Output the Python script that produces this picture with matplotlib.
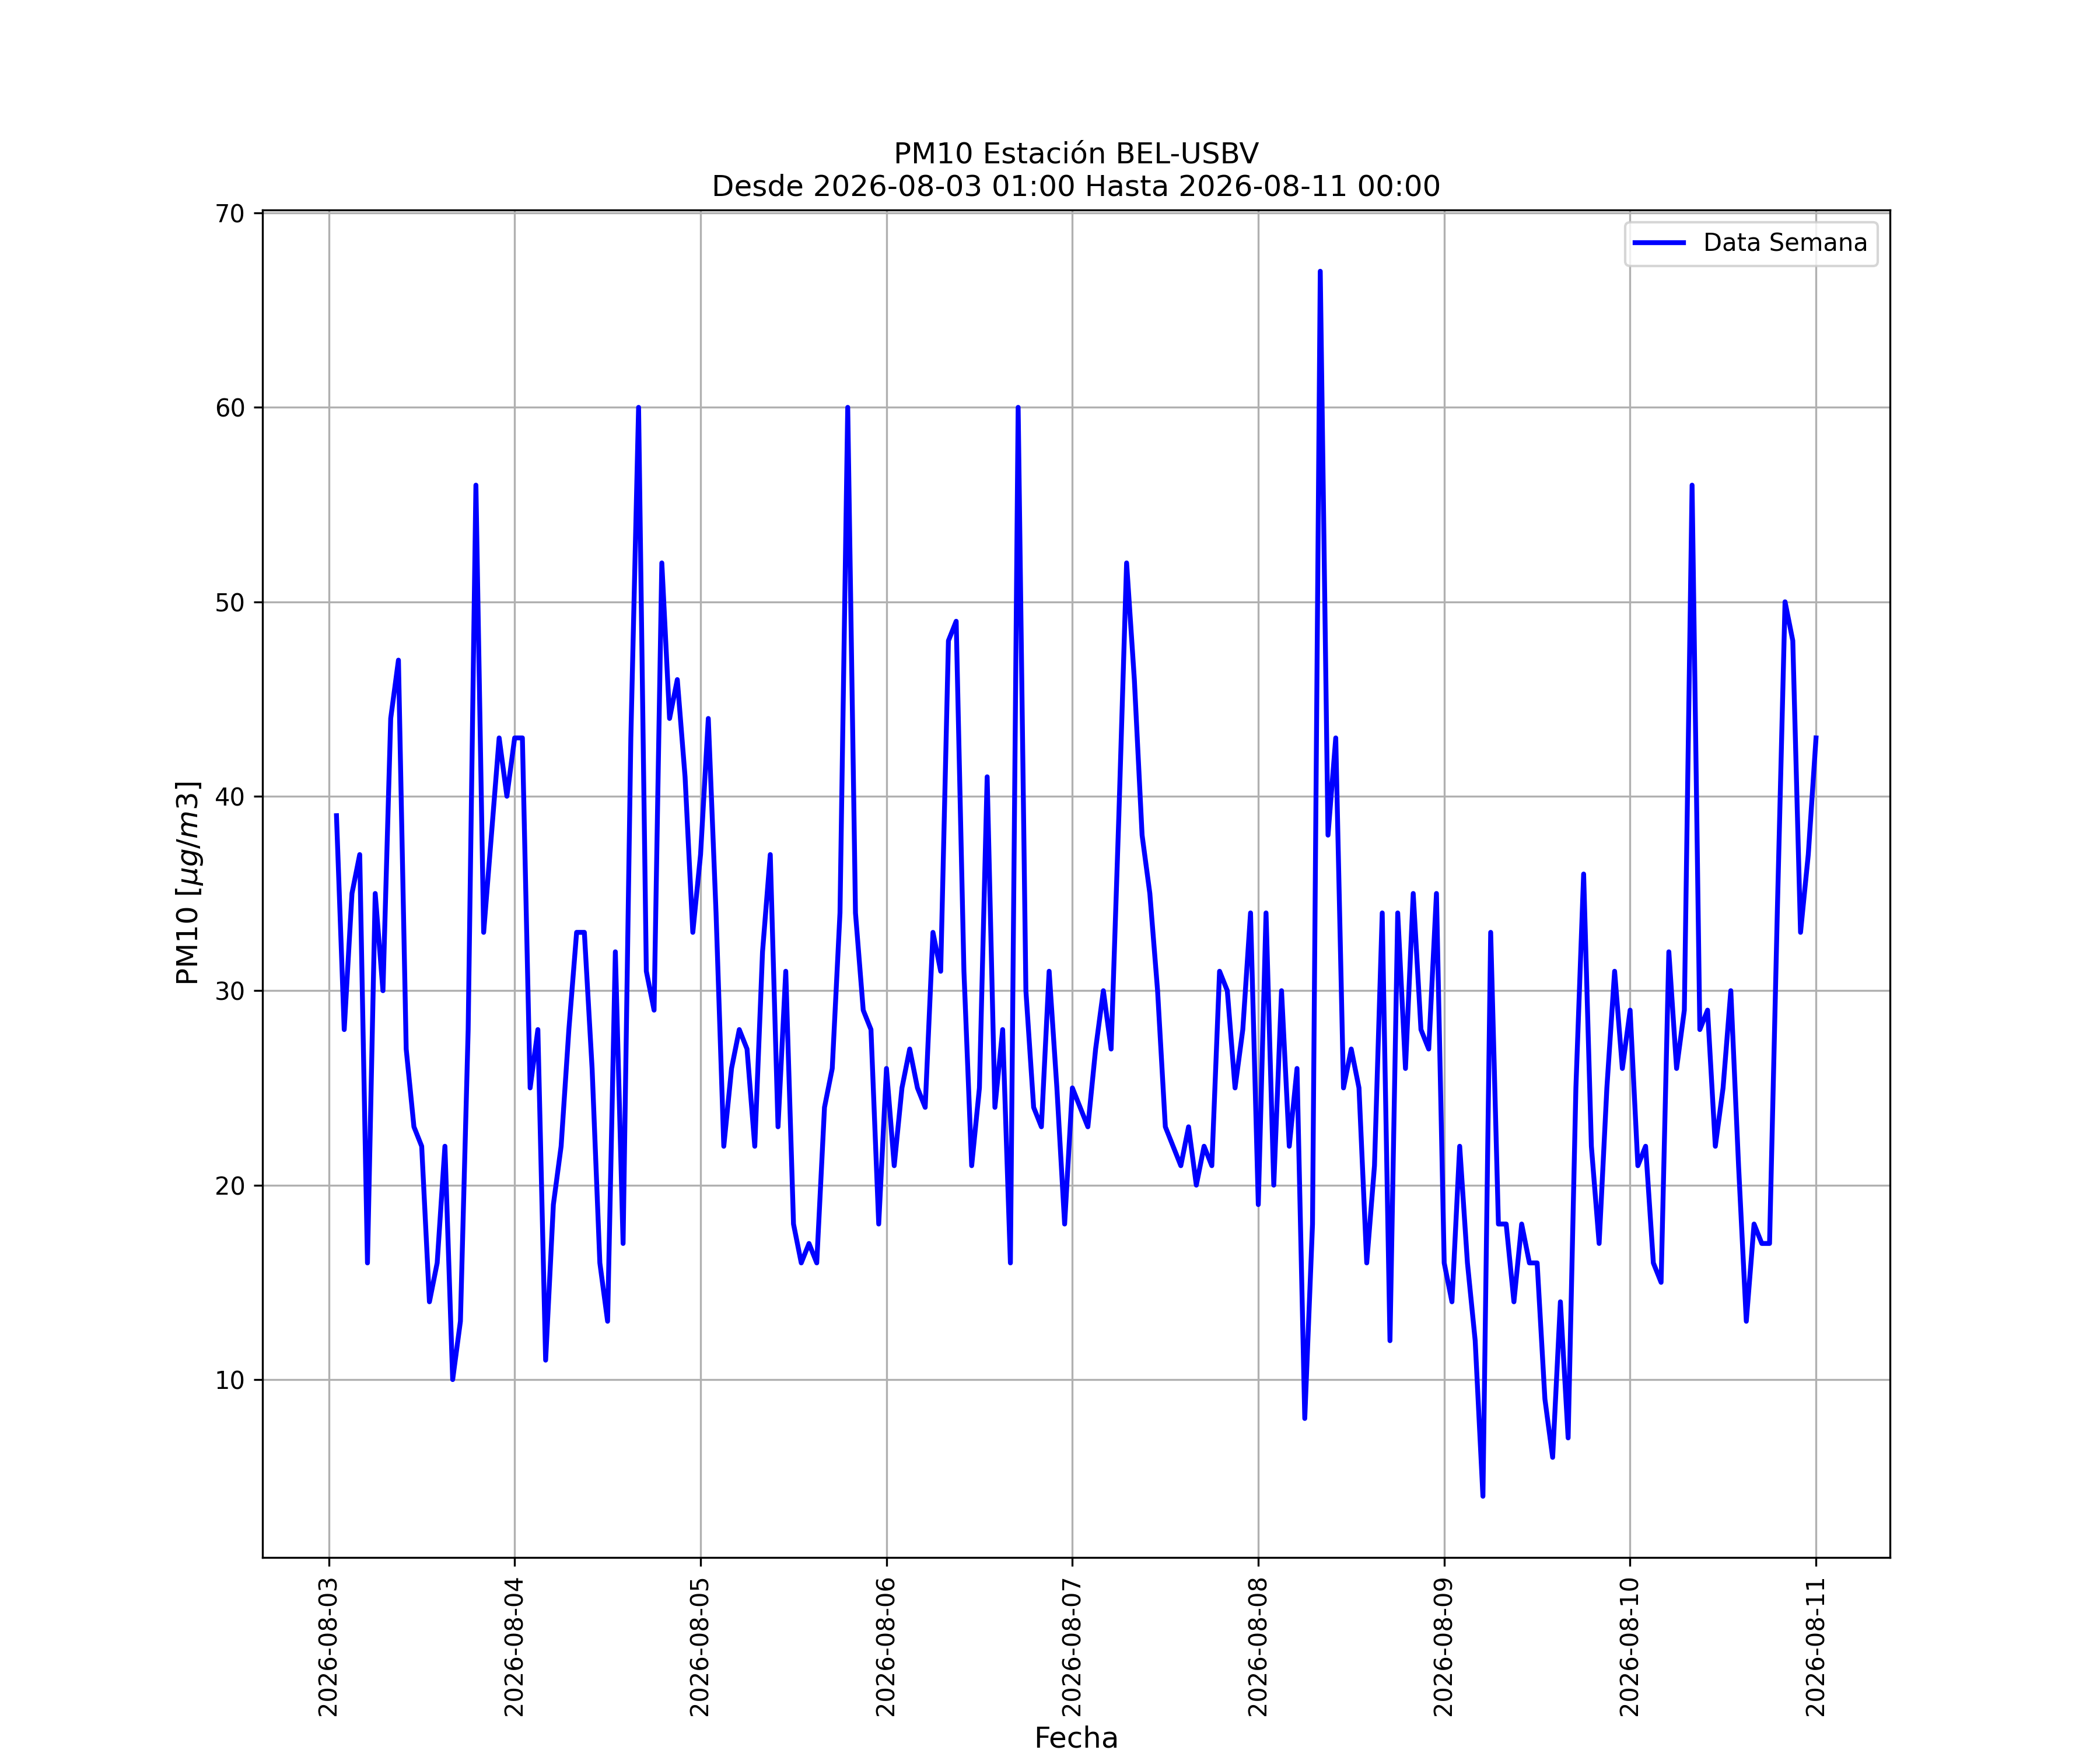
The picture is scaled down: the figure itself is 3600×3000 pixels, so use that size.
import matplotlib
matplotlib.use('Agg')
import matplotlib.pyplot as plt
import matplotlib.dates as mdates
import pandas as pd

start = '2026-08-03 01:00'
end = '2026-08-11 00:00'
station = 'BEL-USBV'

# hourly PM10 values, 2026-08-03 01:00 .. 2026-08-11 00:00
pm10 = [
    # 08-03 01..23
    39, 28, 35, 37, 16, 35, 30, 44, 47, 27, 23, 22, 14, 16, 22, 10, 13, 28, 56, 33, 38, 43, 40,
    # 08-04
    43, 43, 25, 28, 11, 19, 22, 28, 33, 33, 26, 16, 13, 32, 17, 43, 60, 31, 29, 52, 44, 46, 41, 33,
    # 08-05
    37, 44, 34, 22, 26, 28, 27, 22, 32, 37, 23, 31, 18, 16, 17, 16, 24, 26, 34, 60, 34, 29, 28, 18,
    # 08-06
    26, 21, 25, 27, 25, 24, 33, 31, 48, 49, 31, 21, 25, 41, 24, 28, 16, 60, 30, 24, 23, 31, 25, 18,
    # 08-07
    25, 24, 23, 27, 30, 27, 39, 52, 46, 38, 35, 30, 23, 22, 21, 23, 20, 22, 21, 31, 30, 25, 28, 34,
    # 08-08
    19, 34, 20, 30, 22, 26, 8, 18, 67, 38, 43, 25, 27, 25, 16, 21, 34, 12, 34, 26, 35, 28, 27, 35,
    # 08-09
    16, 14, 22, 16, 12, 4, 33, 18, 18, 14, 18, 16, 16, 9, 6, 14, 7, 25, 36, 22, 17, 25, 31, 26,
    # 08-10
    29, 21, 22, 16, 15, 32, 26, 29, 56, 28, 29, 22, 25, 30, 21, 13, 18, 17, 17, 34, 50, 48, 33, 37,
    # 08-11 00:00
    43,
]

fechas = pd.date_range(start, end, freq='h')

fig, ax = plt.subplots(figsize=(12, 10))
ax.plot(fechas, pm10, color='b', linewidth=2, label='Data Semana')
ax.set_title('PM10 Estación ' + station + '\nDesde ' + start + ' Hasta ' + end)
ax.set_xlabel('Fecha', fontsize=12)
ax.set_ylabel(r'PM10 [$\mu g/m3$]', fontsize=12)
ax.xaxis.set_major_locator(mdates.DayLocator())
ax.xaxis.set_major_formatter(mdates.DateFormatter('%Y-%m-%d'))
plt.setp(ax.get_xticklabels(), rotation=90)
ax.grid(True)
ax.legend(loc='upper right')
fig.savefig('out.png', dpi=300)
